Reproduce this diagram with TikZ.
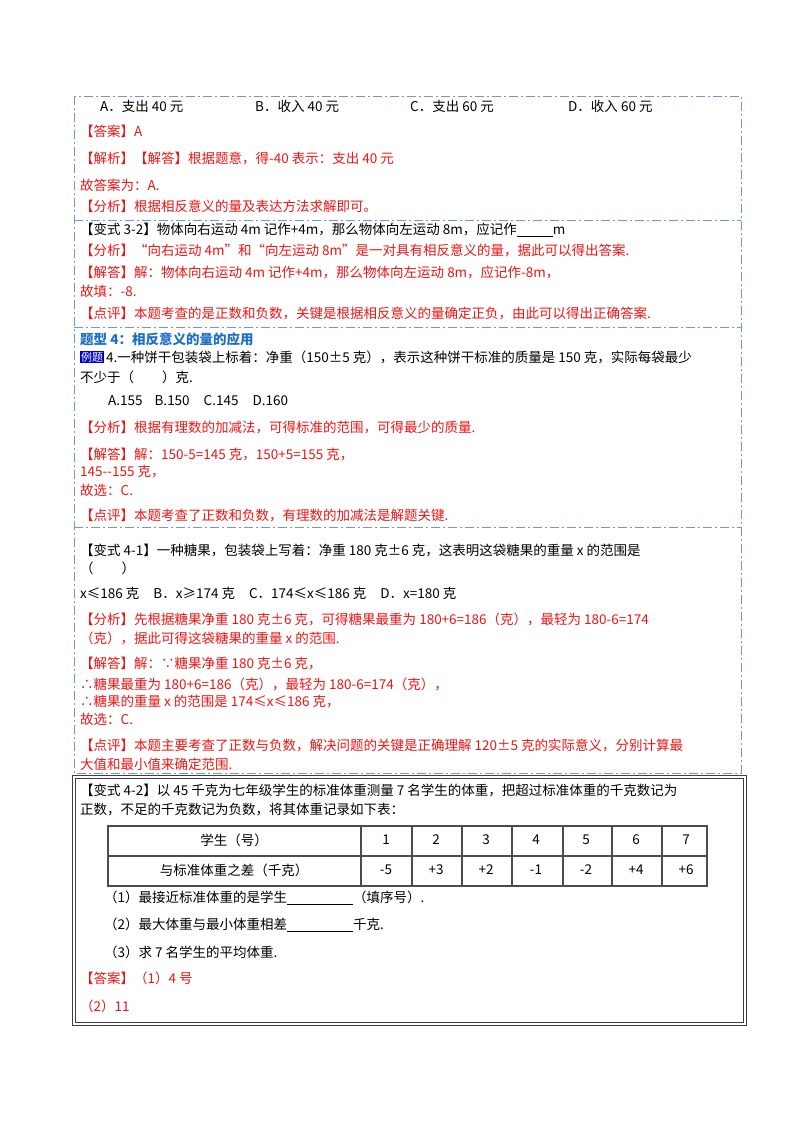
\documentclass[tikz,border=0pt]{standalone}
\usepackage{fontspec}
\setmainfont{Noto Sans CJK SC}
\definecolor{rd}{RGB}{240,20,20}
\definecolor{bl}{RGB}{30,110,200}
\definecolor{dashc}{RGB}{110,150,225}
\begin{document}
\begin{tikzpicture}[x=1pt,y=-1pt,
  t/.style={anchor=west,inner sep=0pt,font=\fontsize{13.5}{16}\selectfont},
  r/.style={t,text=rd},
  sep/.style={draw=dashc,line width=0.8pt,dash pattern=on 9pt off 3pt on 2pt off 3pt}]
\useasboundingbox (0,0) rectangle (800,1132);
\fill[white] (0,0) rectangle (800,1132);
% dashed box
\draw[sep] (74,96) rectangle (741,773);
\foreach \yy in {220,327,527}{\draw[sep] (74,\yy) -- (741,\yy);}
\node[t] (a1) at (100,106) {A．支出 40 元};
\node[t] (a2) at (255,106) {B．收入 40 元};
\node[t] (a3) at (410,106) {C．支出 60 元};
\node[t] (a4) at (568,106) {D．收入 60 元};
\node[r] (l1) at (80,131) {【答案】A};
\node[r] (l2) at (80,158) {【解析】【解答】根据题意，得-40 表示：支出 40 元};
\node[r] (l3) at (80,185) {故答案为：A.};
\node[r] (l4) at (80,206) {【分析】根据相反意义的量及表达方法求解即可。};
\node[t] (l5) at (80,230) {【变式 3-2】物体向右运动 4m 记作+4m，那么物体向左运动 8m，应记作\underline{\hspace{36pt}}m};
\node[r] (l6) at (80,250) {【分析】“向右运动 4m”和“向左运动 8m”是一对具有相反意义的量，据此可以得出答案.};
\node[r] (l7) at (80,272) {【解答】解：物体向右运动 4m 记作+4m，那么物体向左运动 8m，应记作-8m，};
\node[r] (l8) at (80,291) {故填：-8.};
\node[r] (l9) at (80,313) {【点评】本题考查的是正数和负数，关键是根据相反意义的量确定正负，由此可以得出正确答案.};
\node[t,text=bl,font=\bfseries\fontsize{13.5}{16}\selectfont] (h4) at (80,339) {题型 4：相反意义的量的应用};
\node[fill=blue!80!black,text=white,inner sep=1pt,anchor=west,font=\fontsize{11}{12}\selectfont] (ex) at (80,357) {例题};
\node[t] (q1) at (106,357) {4.一种饼干包装袋上标着：净重（150±5 克），表示这种饼干标准的质量是 150 克，实际每袋最少};
\node[t] (q2) at (80,377) {不少于（\hspace{28pt}）克.};
\node[t] (q3) at (108,401) {A.155\hspace{12pt}B.150\hspace{14pt}C.145\hspace{14pt}D.160};
\node[r] (q4) at (80,428) {【分析】根据有理数的加减法，可得标准的范围，可得最少的质量.};
\node[r] (q5) at (80,455) {【解答】解：150-5=145 克，150+5=155 克，};
\node[r] (q6) at (80,472) {145{-}{-}155 克，};
\node[r] (q7) at (80,490) {故选：C.};
\node[r] (q8) at (80,516) {【点评】本题考查了正数和负数，有理数的加减法是解题关键.};
\node[t] (b1) at (80,550) {【变式 4-1】一种糖果，包装袋上写着：净重 180 克±6 克，这表明这袋糖果的重量 x 的范围是};
\node[t] (b2) at (80,568) {（\hspace{28pt}）};
\node[t] (b3) at (80,593) {x≤186 克\hspace{14pt}B．x≥174 克\hspace{14pt}C．174≤x≤186 克\hspace{14pt}D．x=180 克};
\node[r] (b4) at (80,619) {【分析】先根据糖果净重 180 克±6 克，可得糖果最重为 180+6=186（克），最轻为 180-6=174};
\node[r] (b5) at (80,638) {（克），据此可得这袋糖果的重量 x 的范围.};
\node[r] (b6) at (80,664) {【解答】解：∵糖果净重 180 克±6 克，};
\node[r] (b7) at (80,684) {∴糖果最重为 180+6=186（克），最轻为 180-6=174（克），};
\node[r] (b8) at (80,702) {∴糖果的重量 x 的范围是 174≤x≤186 克，};
\node[r] (b9) at (80,719) {故选：C.};
\node[r] (b10) at (80,745) {【点评】本题主要考查了正数与负数，解决问题的关键是正确理解 120±5 克的实际意义，分别计算最};
\node[r] (b11) at (80,764) {大值和最小值来确定范围.};
% black double box
\draw[line width=0.8pt,black!75] (72,775) rectangle (746,1025);
\draw[line width=0.8pt,black!75] (75,778) rectangle (743,1022);
\node[t] (c1) at (80,790) {【变式 4-2】以 45 千克为七年级学生的标准体重测量 7 名学生的体重，把超过标准体重的千克数记为};
\node[t] (c2) at (80,810) {正数，不足的千克数记为负数，将其体重记录如下表：};
% table
\draw[line width=2.2pt,black!70] (108,826) rectangle (707,886);
\draw[line width=2.2pt,black!70] (108,856) -- (707,856);
\foreach \xx in {361,412,462,512,563,612,662}{\draw[line width=1.6pt,black!70] (\xx,826) -- (\xx,886);}
\node[inner sep=0pt,font=\fontsize{13.5}{16}\selectfont] (th) at (234,840) {学生（号）};
\node[inner sep=0pt,font=\fontsize{13.5}{16}\selectfont] (td) at (234,870) {与标准体重之差（千克）};
\foreach \v [count=\i] in {1,...,7}{\node[inner sep=0pt,font=\fontsize{13.5}{16}\selectfont] (n\i) at ({361+50*\i-25},840) {\v};}
\foreach \v [count=\i] in {-5,+3,+2,-1,-2,+4,+6}{\node[inner sep=0pt,font=\fontsize{13.5}{16}\selectfont] (d\i) at ({361+50*\i-25},870) {\v};}
\node[t] (c3) at (104,898) {（1）最接近标准体重的是学生\underline{\hspace{66pt}}（填序号）.};
\node[t] (c4) at (104,925) {（2）最大体重与最小体重相差\underline{\hspace{66pt}}千克.};
\node[t] (c5) at (104,952) {（3）求 7 名学生的平均体重.};
\node[r] (c6) at (80,978) {【答案】（1）4 号};
\node[r] (c7) at (80,1006) {（2）11};
\end{tikzpicture}
\end{document}
